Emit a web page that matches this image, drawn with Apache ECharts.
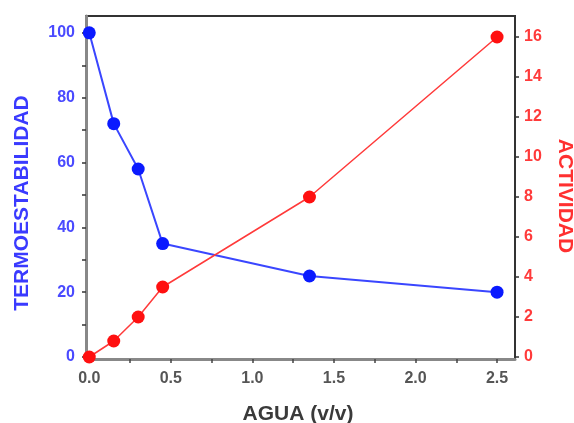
<!DOCTYPE html>
<html><head><meta charset="utf-8">
<script src="https://cdn.jsdelivr.net/npm/echarts@6/dist/echarts.min.js"></script>
<style>html,body{margin:0;padding:0;background:#fff}#c{width:574px;height:423px}</style>
</head><body><div id="c"></div>
<script>
const aguaTermo = [0, 0.15, 0.3, 0.45, 1.35, 2.5];
const termoestabilidad = [100, 72, 58, 35, 25, 20];
const aguaAct = [0, 0.15, 0.3, 0.45, 1.35, 2.5];
const actividad = [0, 0.8, 2.0, 3.5, 8.0, 16.0];
const xTicks = [0, 0.5, 1.0, 1.5, 2.0, 2.5];
const xMinorTicks = [0, 0.25, 0.5, 0.75, 1.0, 1.25, 1.5, 1.75, 2.0, 2.25, 2.5];
const leftTicks = [0, 20, 40, 60, 80, 100];
const leftMinorTicks = [0, 10, 20, 30, 40, 50, 60, 70, 80, 90, 100];
const rightTicks = [0, 2, 4, 6, 8, 10, 12, 14, 16];
const xName = 'AGUA (v/v)';
const leftName = 'TERMOESTABILIDAD';
const rightName = 'ACTIVIDAD';

const chart = echarts.init(document.getElementById('c'));
const font = 'Liberation Sans, Arial, sans-serif';
chart.setOption({
  animation: false,
  grid: {left: 86, right: 59, top: 16, bottom: 64, show: true, borderColor: '#333', borderWidth: 2, backgroundColor: '#fff'},
  graphic: [
    {type: 'text', x: 298, y: 414, style: {text: xName, align: 'center', verticalAlign: 'middle', fill: '#3a3a3a', font: 'bold 21px ' + font}},
    {type: 'text', x: 22, y: 203, rotation: Math.PI / 2, style: {text: leftName, align: 'center', verticalAlign: 'middle', fill: '#3a3aff', font: 'bold 21px ' + font}},
    {type: 'text', x: 565, y: 196, rotation: -Math.PI / 2, style: {text: rightName, align: 'center', verticalAlign: 'middle', fill: '#ff3030', font: 'bold 21px ' + font}}
  ],
  xAxis: {
    type: 'value', min: -0.02, max: 2.61,
    axisLine: {onZero: false, lineStyle: {color: '#888', width: 3}},
    axisTick: {customValues: xMinorTicks, length: 4, lineStyle: {color: '#444', width: 1.5}},
    axisLabel: {customValues: xTicks, formatter: v => v.toFixed(1), color: '#555', fontWeight: 'bold', fontSize: 16, fontFamily: font, margin: 12},
    splitLine: {show: false}
  },
  yAxis: [{
    type: 'value', min: -0.6, max: 105.2, position: 'left',
    axisLine: {onZero: false, lineStyle: {color: '#888', width: 3}},
    axisTick: {customValues: leftMinorTicks, length: 4, lineStyle: {color: '#333', width: 1.5}},
    axisLabel: {customValues: leftTicks, color: '#4a4aff', fontWeight: 'bold', fontSize: 16, fontFamily: font, margin: 11},
    splitLine: {show: false}
  }, {
    type: 'value', min: -0.1, max: 17.05, position: 'right',
    axisLine: {onZero: false, lineStyle: {color: '#333', width: 2}},
    axisTick: {customValues: rightTicks, length: 4, lineStyle: {color: '#333', width: 1.5}},
    axisLabel: {customValues: rightTicks, color: '#ff3a3a', fontWeight: 'bold', fontSize: 16, fontFamily: font, margin: 9},
    splitLine: {show: false}
  }],
  series: [{
    type: 'line', yAxisIndex: 0,
    data: aguaTermo.map((x, i) => [x, termoestabilidad[i]]),
    symbol: 'circle', symbolSize: 13,
    lineStyle: {color: '#3a46ff', width: 2},
    itemStyle: {color: '#0a1aff'}
  }, {
    type: 'line', yAxisIndex: 1,
    data: aguaAct.map((x, i) => [x, actividad[i]]),
    symbol: 'circle', symbolSize: 13,
    lineStyle: {color: '#ff3a3a', width: 1.5},
    itemStyle: {color: '#ff1010'}
  }]
});
</script></body></html>
